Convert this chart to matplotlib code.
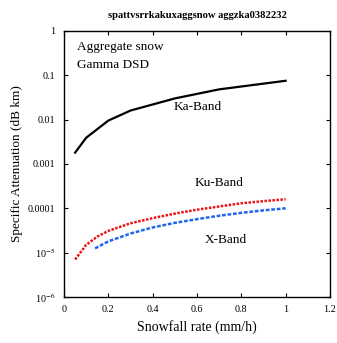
from matplotlib import pyplot as plt
from matplotlib.ticker import FixedLocator, FixedFormatter
import numpy as np

# data
ka_x = [0.05, 0.1, 0.2, 0.3, 0.5, 0.7, 1.0]
ka_y = [0.0018, 0.0039, 0.0095, 0.016, 0.030, 0.048, 0.075]

ku_x = [0.05, 0.1, 0.15, 0.2, 0.3, 0.4, 0.5, 0.6, 0.7, 0.8, 0.9, 1.0]
ku_y = [7.0e-6, 1.5e-5, 2.3e-5, 3.1e-5, 4.6e-5, 6.0e-5, 7.6e-5, 9.3e-5, 1.1e-4, 1.3e-4, 1.45e-4, 1.6e-4]

x_x = [0.14, 0.2, 0.3, 0.4, 0.5, 0.6, 0.7, 0.8, 0.9, 1.0]
x_y = [1.25e-5, 1.8e-5, 2.7e-5, 3.7e-5, 4.7e-5, 5.7e-5, 6.8e-5, 7.9e-5, 9.0e-5, 1.0e-4]

xticks = [0, 0.2, 0.4, 0.6, 0.8, 1, 1.2]
xtick_labels = ['0', '0.2', '0.4', '0.6', '0.8', '1', '1.2']
yticks = [1e-6, 1e-5, 1e-4, 1e-3, 1e-2, 1e-1, 1]
ytick_labels = [r'10$^{-6}$', r'10$^{-5}$', '0.0001', '0.001', '0.01', '0.1', '1']

plt.rcParams['font.family'] = ['Liberation Serif', 'DejaVu Serif']
plt.rcParams['mathtext.fontset'] = 'stix'

fig = plt.figure(figsize=(3.37, 3.43), dpi=100)
ax = fig.add_axes([0.190, 0.134, 0.789, 0.776])

ax.plot(ka_x, ka_y, color='black', linewidth=1.6)
ax.plot(ku_x, ku_y, color='#ee1111', linewidth=1.8, linestyle=(0, (1, 0.6)))
ax.plot(x_x, x_y, color='#2266ee', linewidth=1.8, linestyle=(0, (1.5, 0.7)))

ax.set_yscale('log')
ax.set_xlim(0, 1.2)
ax.set_ylim(1e-6, 1)
ax.xaxis.set_major_locator(FixedLocator(xticks))
ax.xaxis.set_major_formatter(FixedFormatter(xtick_labels))
ax.yaxis.set_major_locator(FixedLocator(yticks))
ax.yaxis.set_major_formatter(FixedFormatter(ytick_labels))
ax.yaxis.set_minor_locator(FixedLocator([]))
ax.tick_params(which='major', direction='in', length=3, width=0.8,
               top=True, right=True, labelsize=7.3, pad=6)
for s in ax.spines.values():
    s.set_linewidth(1.0)

ax.text(0.06, 0.44, 'Aggregate snow', fontsize=9.5, va='center', ha='left')
ax.text(0.06, 0.17, 'Gamma DSD', fontsize=9.5, va='center', ha='left')
ax.text(0.605, 0.019, 'Ka-Band', fontsize=9.5, ha='center', va='center')
ax.text(0.70, 0.00037, 'Ku-Band', fontsize=9.5, ha='center', va='center')
ax.text(0.73, 1.9e-5, 'X-Band', fontsize=9.5, ha='center', va='center')

ax.set_xlabel('Snowfall rate (mm/h)', fontsize=10, labelpad=4)
ax.set_ylabel('Specific Attenuation (dB km)', fontsize=9.5, labelpad=4)
fig.text(0.585, 0.956, 'spattvsrrkakuxaggsnow aggzka0382232', fontsize=7.6,
         fontweight='bold', ha='center', va='center')

fig.savefig('out.png', dpi=100)
